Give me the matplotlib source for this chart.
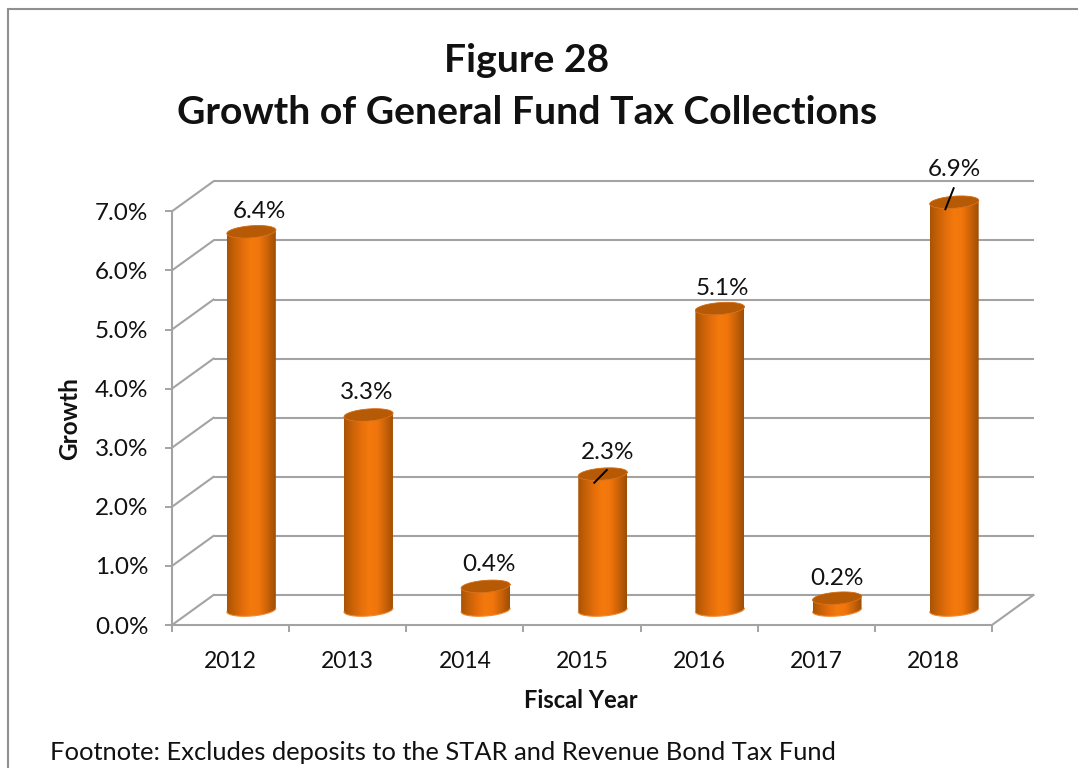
import numpy as np
import matplotlib
matplotlib.use("Agg")
import matplotlib.pyplot as plt
from matplotlib.colors import LinearSegmentedColormap
from matplotlib.patches import PathPatch
from matplotlib.path import Path

plt.rcParams['font.family'] = ['Lato', 'DejaVu Sans']

years = ['2012', '2013', '2014', '2015', '2016', '2017', '2018']
growth = [6.4, 3.3, 0.4, 2.3, 5.1, 0.2, 6.9]
growth_labels = ['6.4%', '3.3%', '0.4%', '2.3%', '5.1%', '0.2%', '6.9%']
y_ticks = [0, 1, 2, 3, 4, 5, 6, 7]
y_tick_labels = ['0.0%', '1.0%', '2.0%', '3.0%', '4.0%', '5.0%', '6.0%', '7.0%']

W, H = 1078, 768
fig = plt.figure(figsize=(W / 100, H / 100), dpi=100, facecolor='white')

# Pixel-space overlay for the chart frame and free-standing text
bg = fig.add_axes([0, 0, 1, 1])
bg.set_xlim(0, W)
bg.set_ylim(H, 0)
bg.axis('off')
bg.plot([8, 8, W], [H, 9, 9], color='#8f8f8f', lw=1.5, solid_joinstyle='miter')

# Main axes: the front plane of the 3D box
L, R, BOT, TOP = 172, 992, 625, 211.3
ax = fig.add_axes([L / W, 1 - BOT / H, (R - L) / W, (BOT - TOP) / H])
ax.patch.set_alpha(0)
for s in ax.spines.values():
    s.set_visible(False)

cat_px = (R - L) / 7
val_px = (BOT - TOP) / 7
depth_x = 41.5 / cat_px   # depth of the box, in category units
depth_y = 30 / val_px     # depth of the box, in value units

grid = '#a3a3a3'
glw = 1.5
for v in y_ticks:
    ax.plot([-0.5 + depth_x, 6.5 + depth_x], [v + depth_y] * 2, color=grid, lw=glw, clip_on=False,
            solid_capstyle='butt', zorder=1)
    ax.plot([-0.5, -0.5 + depth_x], [v, v + depth_y], color=grid, lw=glw, clip_on=False, zorder=1)
# Floor and left wall outline
ax.plot([-0.5, 6.5], [0, 0], color=grid, lw=glw, clip_on=False, zorder=1)
ax.plot([6.5, 6.5 + depth_x], [0, depth_y], color=grid, lw=glw, clip_on=False, zorder=1)
ax.plot([-0.5, -0.5], [0, 7], color=grid, lw=glw, clip_on=False, zorder=1)

ax.set_xticks(np.arange(-0.5, 7), labels=[])
ax.set_xticks(range(7), labels=years, minor=True)
ax.set_yticks(y_ticks, labels=y_tick_labels)
ax.tick_params(axis='x', which='major', length=5, width=1.4, color=grid)
ax.tick_params(axis='x', which='minor', length=0, pad=19, labelsize=16.5, labelcolor='#111111')
ax.tick_params(axis='y', length=5, width=1.4, color=grid, pad=12, labelsize=17.5, labelcolor='#111111')

# Cylinders, standing halfway into the box depth
side_cmap = LinearSegmentedColormap.from_list(
    'cyl', ['#a95403', '#c96208', '#e56e0a', '#f47a0d', '#f0750b', '#c96208', '#9c4e04'])
grad = np.linspace(0, 1, 256)[None, :]
rx = 49 / cat_px / 2
ry = 6 / val_px
tilt = 1.8 / val_px  # right side of each ellipse sits slightly higher
base = depth_y / 2

label_dx = [8, -2, 3, 5, 3, 0, 0]
label_dy = [20, 22, 22, 22, 20, 20, 33]

for i, (v, lab) in enumerate(zip(growth, growth_labels)):
    cx = i + depth_x / 2
    top = base + v
    t = np.linspace(np.pi, 2 * np.pi, 50)
    bx = cx + rx * np.cos(t)
    by = base + ry * np.sin(t) + tilt * np.cos(t)
    tx = bx[::-1]
    ty = top + ry * np.sin(t[::-1]) + tilt * np.cos(t[::-1])
    # Body outline: lower arc of the base, then up and across the top
    verts = np.column_stack([np.r_[bx, tx], np.r_[by, ty]])
    verts = np.vstack([verts, verts[0]])
    body = PathPatch(Path(verts), transform=ax.transData, fc='none', ec='none')
    ax.add_patch(body)
    im = ax.imshow(grad, cmap=side_cmap, aspect='auto', zorder=3,
                   extent=[cx - rx, cx + rx, base - ry * 1.5, top + ry * 1.5])
    im.set_clip_box(fig.bbox)
    im.set_clip_path(body)
    # Soft lighter rim along the bottom edge
    ax.plot(bx, by, color='#f08a35', lw=0.8, zorder=3.5, clip_on=False)
    # Top face
    t2 = np.linspace(0, 2 * np.pi, 80)
    ex = cx + rx * np.cos(t2)
    ey = top + ry * np.sin(t2) + tilt * np.cos(t2)
    ax.fill(ex, ey, color='#b65a06', zorder=4, clip_on=False, lw=0)
    ax.plot(ex, ey, color='#d56a12', lw=0.6, zorder=4, clip_on=False)
    ax.annotate(lab, xy=(cx, top), xytext=(label_dx[i] * 0.72, label_dy[i] * 0.72),
                textcoords='offset points', ha='center', va='center',
                fontsize=17.5, color='#111111', zorder=6, annotation_clip=False)

ax.set_xlim(-0.5, 6.5)
ax.set_ylim(0, 7)

# Leader lines for the two labels sitting over their bars
for idx, (p0, q0) in {3: ((4, -4), (-8.5, 8.7)), 6: ((-0.5, -14), (-8.8, 7))}.items():
    cx = idx + depth_x / 2
    top = base + growth[idx]
    ax.plot([cx + p0[0] / cat_px, cx + q0[0] / cat_px],
            [top - p0[1] / val_px, top - q0[1] / val_px],
            color='black', lw=1.4, zorder=7, clip_on=False)

# Axis titles, chart title and footnote
bg.text(581, 701, 'Fiscal Year', ha='center', va='center', fontsize=17, fontweight='bold', color='#111111')
bg.text(70, 419, 'Growth', ha='center', va='center', rotation=90, fontsize=17.5, fontweight='bold', color='#111111')
bg.text(527, 61, 'Figure 28', ha='center', va='center', fontsize=28.2, fontweight='bold', color='#111111')
bg.text(527, 113, 'Growth of General Fund Tax Collections', ha='center', va='center',
        fontsize=28.2, fontweight='bold', color='#111111')
bg.text(50, 753, 'Footnote: Excludes deposits to the STAR and Revenue Bond Tax Fund',
        ha='left', va='center', fontsize=18.35, color='#111111')

fig.savefig('out.png', dpi=100, facecolor='white')
